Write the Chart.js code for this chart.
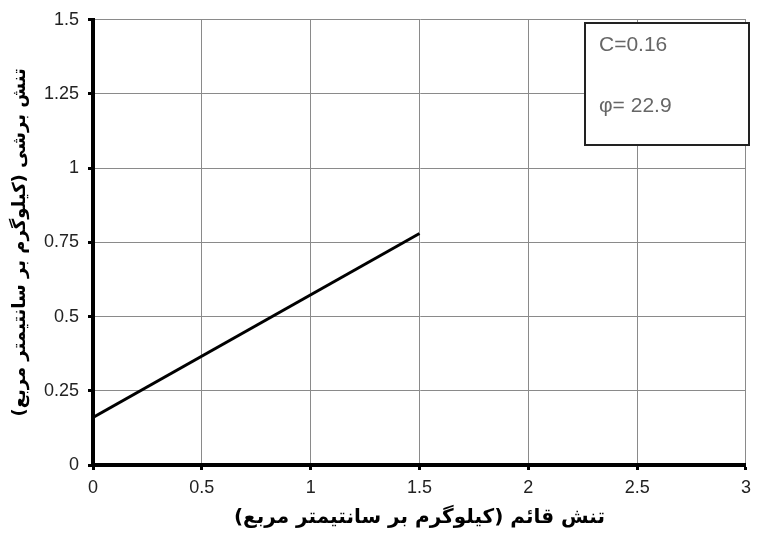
<!DOCTYPE html>
<html>
<head>
<meta charset="utf-8">
<script src="https://cdn.jsdelivr.net/npm/chart.js@4.4.0/dist/chart.umd.min.js"></script>
<style>
  html, body { margin: 0; padding: 0; background: #fff; }
  #wrap { width: 758px; height: 533px; position: relative; }
</style>
</head>
<body>
<div id="wrap"><canvas id="c" width="758" height="533"></canvas></div>
<script>
// Data
const normalStress = [0, 1.5];
const shearStress = [0.16, 0.78];
const xTickLabels = ['0', '0.5', '1', '1.5', '2', '2.5', '3'];
const yTickLabels = ['0', '0.25', '0.5', '0.75', '1', '1.25', '1.5'];
const xTitle = 'تنش قائم (کیلوگرم بر سانتیمتر مربع)';
const yTitle = 'تنش برشی (کیلوگرم بر سانتیمتر مربع)';
const boxLines = ['C=0.16', 'φ= 22.9'];

const points = normalStress.map((x, i) => ({ x: x, y: shearStress[i] }));

const infoBox = {
  id: 'infoBox',
  afterDatasetsDraw(chart) {
    const ctx = chart.ctx;
    ctx.save();
    const x = 585, y = 23, w = 164, h = 122;
    ctx.fillStyle = '#fff';
    ctx.fillRect(x, y, w, h);
    ctx.strokeStyle = '#222';
    ctx.lineWidth = 2;
    ctx.strokeRect(x, y, w, h);
    ctx.fillStyle = '#666';
    ctx.font = '21px "Liberation Sans", Arial, sans-serif';
    ctx.textBaseline = 'alphabetic';
    ctx.textAlign = 'left';
    ctx.fillText(boxLines[0], 599, 51);
    ctx.fillText(boxLines[1], 599, 112);
    ctx.restore();
  }
};

const tickFont = { family: '"Liberation Sans", Arial, sans-serif', size: 18 };

new Chart(document.getElementById('c'), {
  type: 'line',
  data: {
    datasets: [{
      data: points,
      borderColor: '#000',
      borderWidth: 3,
      pointRadius: 0,
      fill: false,
      tension: 0
    }]
  },
  options: {
    responsive: false,
    animation: false,
    layout: { padding: { left: 0, right: 1, top: 19, bottom: 0 } },
    plugins: { legend: { display: false }, tooltip: { enabled: false } },
    scales: {
      x: {
        type: 'linear',
        min: 0, max: 3,
        ticks: { stepSize: 0.5, color: '#222', padding: 7, maxRotation: 0, font: tickFont,
                 callback: (v, i) => xTickLabels[i] },
        grid: { color: '#8a8a8a', lineWidth: 1, tickLength: 5, tickColor: '#000', tickWidth: 3 },
        border: { color: '#000', width: 4 },
        title: { display: true, text: xTitle, color: '#000', padding: { top: 0, bottom: 3 },
                 font: { family: '"DejaVu Sans", sans-serif', size: 20, weight: 'bold' } },
        afterFit(s) { s.height = 68; }
      },
      y: {
        type: 'linear',
        min: 0, max: 1.5,
        ticks: { stepSize: 0.25, color: '#222', padding: 9, font: tickFont,
                 callback: (v, i) => yTickLabels[i] },
        grid: { color: '#8a8a8a', lineWidth: 1, tickLength: 5, tickColor: '#000', tickWidth: 3 },
        border: { color: '#000', width: 4 },
        title: { display: true, text: yTitle, color: '#000', padding: { top: 10, bottom: 0 },
                 font: { family: '"DejaVu Sans", sans-serif', size: 18, weight: 'bold' } },
        afterFit(s) { s.width = 93; }
      }
    }
  },
  plugins: [infoBox]
});
</script>
</body>
</html>
